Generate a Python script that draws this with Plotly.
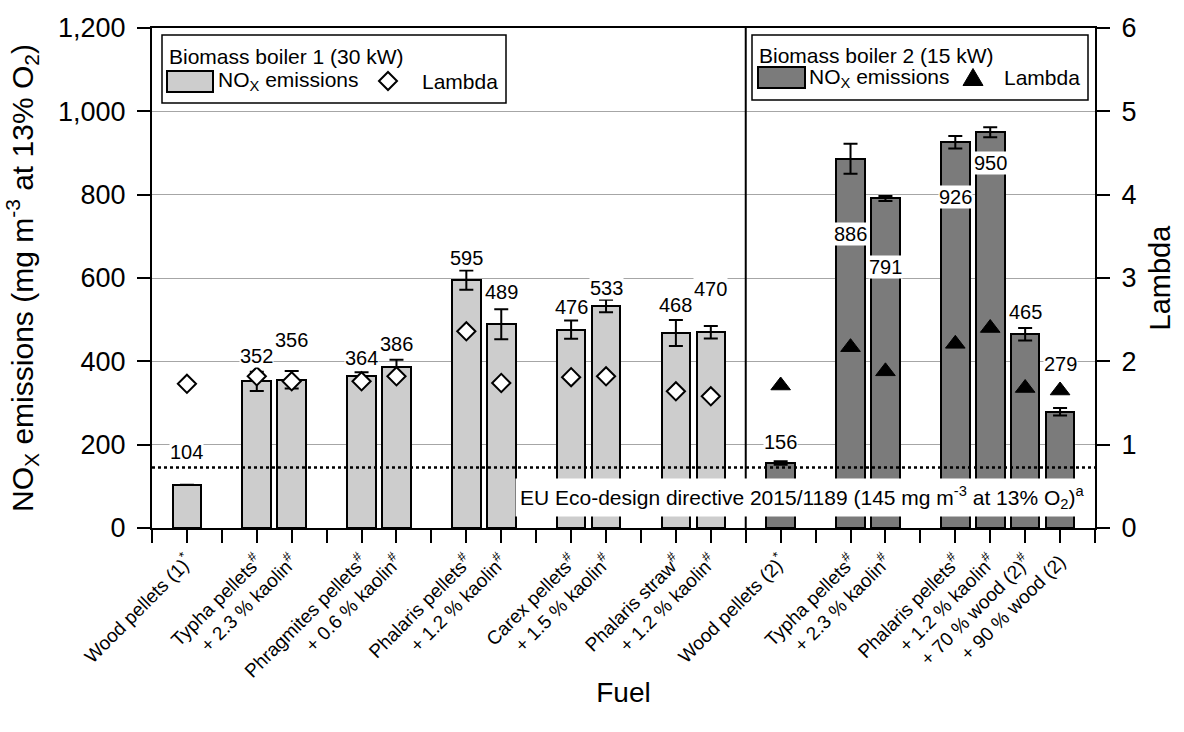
import plotly.graph_objects as go

# ---------------- data ----------------
groups1 = [
    ["Wood pellets (1)<sup>*</sup>"],
    ["Typha pellets<sup>#</sup>", "+ 2.3 % kaolin<sup>#</sup>"],
    ["Phragmites pellets<sup>#</sup>", "+ 0.6 % kaolin<sup>#</sup>"],
    ["Phalaris pellets<sup>#</sup>", "+ 1.2 % kaolin<sup>#</sup>"],
    ["Carex pellets<sup>#</sup>", "+ 1.5 % kaolin<sup>#</sup>"],
    ["Phalaris straw<sup>#</sup>", "+ 1.2 % kaolin<sup>#</sup>"],
]
groups2 = [
    ["Wood pellets (2)<sup>*</sup>"],
    ["Typha pellets<sup>#</sup>", "+ 2.3 % kaolin<sup>#</sup>"],
    ["Phalaris pellets<sup>#</sup>", "+ 1.2 % kaolin<sup>#</sup>",
     "+ 70 % wood (2)<sup>#</sup>", "+ 90 % wood (2)"],
]
nox1 = [104, 352, 356, 364, 386, 595, 489, 476, 533, 468, 470]
nox1_err = [0, 23, 21, 10, 18, 23, 36, 22, 15, 31, 15]
lambda1 = [1.73, 1.82, 1.76, 1.76, 1.82, 2.36, 1.74, 1.81, 1.82, 1.64, 1.58]

nox2 = [156, 886, 791, 926, 950, 465, 279]
nox2_err = [4, 36, 6, 15, 12, 15, 9]
lambda2 = [1.71, 2.17, 1.88, 2.21, 2.40, 1.68, 1.65]

eu_limit = 145

# label offsets (px) relative to top of error bar
shift1 = [33, 16, 31, 14, 16, 13, 17, 14, 12, 15, 37]
shift2 = [19, -90, -71, -61, -36, 16, 44]

# ---------------- slot layout ----------------
def layout_slots(groups, start):
    """start = empty slot before first group; one empty slot between groups."""
    pos, labels = [], []
    p = start
    for i, g in enumerate(groups):
        p += 1 if i == 0 else 2
        for j, name in enumerate(g):
            pos.append(p + j)
            labels.append(name)
        p = p + len(g) - 1
    return pos, labels, p

pos1, lab1, end1 = layout_slots(groups1, 0)
divider = end1 + 1
pos2, lab2, end2 = layout_slots(groups2, divider)
xmax = end2 + 1

tickvals = list(range(0, xmax + 1))
ticktext = [""] * len(tickvals)
for p, l in zip(pos1 + pos2, lab1 + lab2):
    ticktext[p] = l

FONT = "Arial, Liberation Sans, sans-serif"
LIGHT = "#cdcdcd"
DARK = "#7b7b7b"

fig = go.Figure()
fig.add_trace(go.Bar(
    x=pos1, y=nox1, width=0.82,
    marker=dict(color=LIGHT, line=dict(color="black", width=2)),
    error_y=dict(type="data", array=nox1_err, color="black", thickness=2, width=7),
    showlegend=False))
fig.add_trace(go.Bar(
    x=pos2, y=nox2, width=0.82,
    marker=dict(color=DARK, line=dict(color="black", width=2)),
    error_y=dict(type="data", array=nox2_err, color="black", thickness=2, width=7),
    showlegend=False))
fig.add_trace(go.Scatter(
    x=pos1, y=lambda1, yaxis="y2", mode="markers",
    marker=dict(symbol="diamond", size=14, color="white",
                line=dict(color="black", width=2)),
    showlegend=False))
fig.add_trace(go.Scatter(
    x=pos2, y=lambda2, yaxis="y2", mode="markers",
    marker=dict(symbol="triangle-up", size=17, color="black",
                line=dict(color="black", width=1)),
    showlegend=False))

# plot area in px
L, R, T, B = 152, 1095, 28, 528
W, H = 1184, 732

def px(x):
    return (x - L) / (R - L)

def py(y):
    return (B - y) / (B - T)

shapes = []
annotations = []

# EU limit dotted line
shapes.append(dict(type="line", xref="x", yref="y", x0=0, x1=xmax,
                   y0=eu_limit, y1=eu_limit,
                   line=dict(color="black", width=2.5, dash="dot"), layer="above"))
# divider between boilers
shapes.append(dict(type="line", xref="x", yref="paper", x0=divider, x1=divider,
                   y0=0, y1=1, line=dict(color="black", width=2), layer="above"))

# value labels
for xs, vals, errs, sh in ((pos1, nox1, nox1_err, shift1), (pos2, nox2, nox2_err, shift2)):
    for x, v, e, s in zip(xs, vals, errs, sh):
        annotations.append(dict(x=x, y=v + e, xref="x", yref="y", text=str(v),
                                showarrow=False, yanchor="middle", yshift=s,
                                bgcolor="white", borderpad=0,
                                font=dict(size=20, color="black", family=FONT)))

# EU annotation
annotations.append(dict(
    x=px(1089), y=py(497), xref="paper", yref="paper", xanchor="right", yanchor="middle",
    text="EU Eco-design directive 2015/1189 (145 mg m<sup>-3</sup> at 13% O<sub>2</sub>)<sup>a</sup>",
    showarrow=False, bgcolor="white", borderpad=4,
    font=dict(size=21, color="black", family=FONT)))

# manual legends
def legend(box, title_xy, sw, text_xy, marker, lam_xy, fill):
    x0, y0, x1, y1 = box
    shapes.append(dict(type="rect", xref="paper", yref="paper",
                       x0=px(x0), x1=px(x1), y0=py(y1), y1=py(y0),
                       line=dict(color="black", width=1.5), fillcolor="white", layer="above"))
    sx0, sy0, sx1, sy1 = sw
    shapes.append(dict(type="rect", xref="paper", yref="paper",
                       x0=px(sx0), x1=px(sx1), y0=py(sy1), y1=py(sy0),
                       line=dict(color="black", width=2), fillcolor=fill, layer="above"))
    annotations.append(dict(x=px(title_xy[0]), y=py(title_xy[1]), xref="paper", yref="paper",
                            xanchor="left", yanchor="middle", showarrow=False,
                            text=title_xy[2], font=dict(size=21, color="black", family=FONT)))
    annotations.append(dict(x=px(text_xy[0]), y=py(text_xy[1]), xref="paper", yref="paper",
                            xanchor="left", yanchor="middle", showarrow=False,
                            text="NO<sub>X</sub> emissions",
                            font=dict(size=21, color="black", family=FONT)))
    annotations.append(dict(x=px(lam_xy[0]), y=py(lam_xy[1]), xref="paper", yref="paper",
                            xanchor="left", yanchor="middle", showarrow=False,
                            text="Lambda", font=dict(size=21, color="black", family=FONT)))
    mx, my, kind = marker
    if kind == "diamond":
        d = 9
        path = (f"M {px(mx - d)} {py(my)} L {px(mx)} {py(my - d)} "
                f"L {px(mx + d)} {py(my)} L {px(mx)} {py(my + d)} Z")
        shapes.append(dict(type="path", xref="paper", yref="paper", path=path,
                           fillcolor="white", line=dict(color="black", width=2), layer="above"))
    else:
        w, h = 10, 17
        path = (f"M {px(mx - w)} {py(my + h / 2)} L {px(mx + w)} {py(my + h / 2)} "
                f"L {px(mx)} {py(my - h / 2)} Z")
        shapes.append(dict(type="path", xref="paper", yref="paper", path=path,
                           fillcolor="black", line=dict(color="black", width=1), layer="above"))

legend((162, 35, 506, 103), (167, 56, "Biomass boiler 1 (30 kW)"), (167, 71, 213, 92),
       (216, 81), (388, 81, "diamond"), (420, 81), LIGHT)
legend((752, 35, 1088, 100), (757, 55, "Biomass boiler 2 (15 kW)"), (758, 67, 805, 88),
       (807, 78), (973, 77, "triangle"), (1002, 78), DARK)

axis_common = dict(showline=True, linecolor="black", linewidth=2, ticks="outside",
                   tickcolor="black", tickwidth=2, zeroline=False, automargin=False,
                   ticklen=13, ticklabelstandoff=6,
                   tickfont=dict(size=27, color="black", family=FONT))

fig.update_layout(
    width=W, height=H,
    margin=dict(l=L, r=W - R, t=T, b=H - B),
    plot_bgcolor="white", paper_bgcolor="white",
    font=dict(family=FONT, color="black"),
    bargap=0,
    xaxis=dict(range=[0, xmax], tickmode="array", tickvals=tickvals, ticktext=ticktext,
               tickangle=-45, showline=True, linecolor="black", linewidth=2, mirror=True,
               ticks="outside", ticklen=13, tickcolor="black", tickwidth=2,
               showgrid=False, zeroline=False, automargin=False,
               tickfont=dict(size=19, color="black", family=FONT),
               title=dict(text="Fuel", font=dict(size=28, color="black", family=FONT),
                          standoff=2)),
    yaxis=dict(range=[0, 1200], dtick=200, tickformat=",",
               showgrid=True, gridcolor="#a6a6a6", gridwidth=1,
               title=dict(text="NO<sub>X</sub> emissions (mg m<sup>-3</sup> at 13% O<sub>2</sub>)",
                          font=dict(size=30, color="black", family=FONT), standoff=16),
               **axis_common),
    yaxis2=dict(range=[0, 6], dtick=1, overlaying="y", side="right",
                showgrid=False,
                title=dict(text="Lambda", font=dict(size=29, color="black", family=FONT),
                           standoff=14),
                **axis_common),
    shapes=shapes,
    annotations=annotations,
)

fig.write_html("out.html")
